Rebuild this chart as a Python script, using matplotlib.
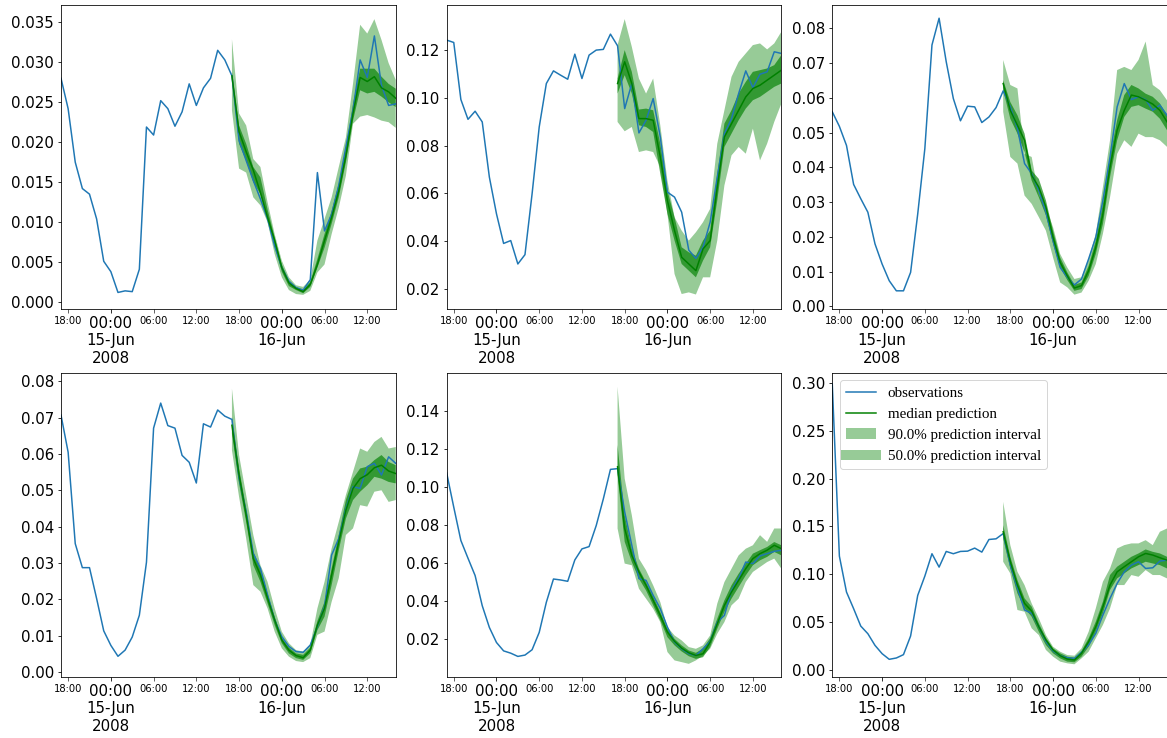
import matplotlib
matplotlib.use("Agg")
import matplotlib.pyplot as plt
import matplotlib.dates as mdates
from matplotlib.lines import Line2D
import numpy as np
import pandas as pd

# hourly series, 48 observations; forecast covers the last 24 hours
start = "2008-06-14 17:00"
n_obs = 48
n_pred = 24

# ---- panel 1 ----
obs_1 = [.0280, .0242, .0175, .0142, .0135, .0104, .0051, .0038, .0012, .0014, .0013, .0041,
         .0219, .0209, .0252, .0242, .0220, .0238, .0273, .0246, .0268, .0280, .0315, .0303,
         .0283, .0202, .0177, .0152, .0129, .0104, .0070, .0043, .0026, .0018, .0015, .0028,
         .0162, .0089, .0110, .0146, .0194, .0240, .0303, .0281, .0333, .0271, .0246, .0248]
med_1 = [.0283, .0213, .0188, .0165, .0137, .0106, .0077, .0043, .0024, .0017, .0013, .0022,
         .0047, .0077, .0106, .0139, .0183, .0236, .0281, .0276, .0282, .0268, .0263, .0255]
hi90_1 = [.0329, .0236, .0221, .0179, .0169, .0125, .0085, .0052, .0031, .0021, .0019, .0028,
          .0077, .0104, .0131, .0169, .0206, .0273, .0347, .0336, .0354, .0328, .0299, .0278]
lo90_1 = [.0240, .0167, .0162, .0131, .0121, .0100, .0060, .0031, .0015, .0010, .0009, .0014,
          .0037, .0047, .0085, .0118, .0158, .0223, .0232, .0234, .0231, .0227, .0225, .0218]
hi50_1 = [.0288, .0221, .0198, .0169, .0156, .0116, .0081, .0047, .0027, .0019, .0015, .0025,
          .0054, .0085, .0114, .0148, .0192, .0248, .0292, .0292, .0292, .0282, .0273, .0267]
lo50_1 = [.0278, .0198, .0177, .0150, .0135, .0106, .0070, .0038, .0020, .0015, .0011, .0019,
          .0043, .0068, .0098, .0131, .0175, .0227, .0265, .0261, .0263, .0257, .0250, .0244]

# ---- panel 2 ----
obs_2 = [.1242, .1232, .0993, .0910, .0944, .0899, .0668, .0514, .0390, .0402, .0304, .0343,
         .0598, .0878, .1060, .1113, .1095, .1078, .1183, .1081, .1179, .1200, .1203, .1267,
         .1218, .0955, .1060, .0853, .0906, .0997, .0836, .0605, .0584, .0521, .0362, .0327,
         .0374, .0479, .0668, .0850, .0913, .1018, .1113, .1043, .1099, .1109, .1193, .1186]
med_2 = [.1060, .1151, .1060, .0913, .0913, .0906, .0752, .0570, .0444, .0332, .0304, .0276,
         .0367, .0402, .0626, .0836, .0892, .0948, .1004, .1039, .1053, .1074, .1095, .1116]
hi90_2 = [.1221, .1330, .1214, .1081, .1018, .1081, .0885, .0654, .0500, .0444, .0402, .0437,
          .0479, .0535, .0808, .0948, .1088, .1151, .1186, .1221, .1228, .1203, .1228, .1277]
lo90_2 = [.0899, .0860, .0878, .0773, .0780, .0773, .0710, .0514, .0262, .0178, .0185, .0176,
          .0248, .0248, .0402, .0633, .0759, .0794, .0766, .0871, .0738, .0808, .0899, .0976]
hi50_2 = [.1081, .1200, .1109, .0951, .0955, .0948, .0808, .0612, .0500, .0374, .0353, .0339,
          .0402, .0444, .0682, .0892, .0948, .1018, .1067, .1109, .1116, .1123, .1137, .1179]
lo50_2 = [.1018, .1095, .1018, .0885, .0878, .0857, .0682, .0514, .0402, .0304, .0276, .0248,
          .0318, .0374, .0570, .0794, .0850, .0906, .0955, .0990, .1004, .1025, .1046, .1060]

# ---- panel 3 ----
obs_3 = [.0560, .0518, .0463, .0351, .0310, .0271, .0180, .0122, .0074, .0045, .0045, .0098,
         .0266, .0454, .0752, .0829, .0704, .0598, .0534, .0576, .0574, .0529, .0545, .0572,
         .0620, .0574, .0512, .0411, .0382, .0334, .0271, .0189, .0112, .0084, .0062, .0079,
         .0137, .0199, .0305, .0430, .0574, .0641, .0595, .0603, .0595, .0564, .0579, .0550]
med_3 = [.0641, .0564, .0521, .0478, .0377, .0343, .0286, .0199, .0127, .0088, .0053, .0060,
         .0103, .0170, .0266, .0401, .0507, .0564, .0608, .0603, .0593, .0582, .0564, .0531]
hi90_3 = [.0709, .0637, .0627, .0439, .0430, .0319, .0286, .0228, .0151, .0112, .0079, .0084,
          .0137, .0209, .0343, .0478, .0680, .0689, .0680, .0709, .0762, .0637, .0622, .0593]
lo90_3 = [.0560, .0430, .0411, .0319, .0295, .0257, .0218, .0141, .0069, .0055, .0034, .0040,
          .0074, .0122, .0209, .0314, .0439, .0478, .0459, .0497, .0487, .0487, .0478, .0459]
hi50_3 = [.0651, .0588, .0550, .0497, .0391, .0367, .0305, .0218, .0141, .0098, .0062, .0069,
          .0117, .0189, .0295, .0430, .0536, .0608, .0637, .0627, .0612, .0603, .0584, .0550]
lo50_3 = [.0622, .0540, .0497, .0444, .0362, .0314, .0262, .0180, .0112, .0076, .0045, .0050,
          .0088, .0151, .0237, .0372, .0478, .0545, .0574, .0579, .0569, .0560, .0540, .0507]

# ---- panel 4 ----
obs_4 = [.0707, .0605, .0353, .0287, .0287, .0202, .0113, .0073, .0043, .0060, .0096, .0156,
         .0302, .0671, .0740, .0678, .0671, .0596, .0577, .0520, .0683, .0674, .0721, .0704,
         .0695, .0533, .0441, .0326, .0285, .0212, .0143, .0097, .0070, .0056, .0054, .0074,
         .0125, .0180, .0322, .0367, .0450, .0510, .0505, .0565, .0574, .0542, .0592, .0574]
med_4 = [.0679, .0542, .0432, .0312, .0267, .0203, .0143, .0088, .0060, .0045, .0039, .0060,
         .0129, .0175, .0267, .0358, .0445, .0505, .0532, .0543, .0562, .0569, .0553, .0546]
hi90_4 = [.0780, .0597, .0487, .0377, .0294, .0248, .0175, .0111, .0079, .0060, .0056, .0074,
          .0175, .0248, .0340, .0413, .0487, .0551, .0615, .0606, .0633, .0647, .0615, .0619]
lo90_4 = [.0610, .0482, .0367, .0239, .0221, .0175, .0111, .0065, .0042, .0030, .0027, .0038,
          .0102, .0111, .0193, .0258, .0377, .0395, .0459, .0455, .0496, .0500, .0468, .0473]
hi50_4 = [.0702, .0560, .0450, .0331, .0285, .0216, .0152, .0094, .0067, .0051, .0047, .0067,
          .0140, .0193, .0285, .0377, .0473, .0532, .0560, .0565, .0583, .0597, .0578, .0569]
lo50_4 = [.0656, .0519, .0413, .0294, .0248, .0189, .0129, .0079, .0051, .0038, .0033, .0051,
          .0115, .0152, .0239, .0335, .0422, .0473, .0496, .0514, .0537, .0532, .0523, .0519]

# ---- panel 5 ----
obs_5 = [.1074, .0894, .0719, .0626, .0535, .0377, .0263, .0184, .0140, .0128, .0111, .0118,
         .0146, .0237, .0395, .0517, .0512, .0505, .0617, .0675, .0687, .0797, .0937, .1092,
         .1096, .0869, .0694, .0519, .0510, .0431, .0361, .0265, .0186, .0151, .0125, .0116,
         .0151, .0190, .0291, .0326, .0457, .0522, .0606, .0598, .0638, .0650, .0662, .0668]
med_5 = [.1106, .0782, .0641, .0554, .0484, .0405, .0326, .0239, .0190, .0154, .0130, .0116,
         .0125, .0186, .0282, .0379, .0449, .0510, .0571, .0624, .0650, .0668, .0694, .0676]
hi90_5 = [.1526, .1044, .0852, .0624, .0563, .0484, .0396, .0265, .0221, .0195, .0160, .0151,
          .0169, .0221, .0388, .0501, .0571, .0641, .0676, .0694, .0747, .0712, .0782, .0782]
lo90_5 = [.0782, .0598, .0589, .0466, .0414, .0361, .0291, .0134, .0090, .0081, .0072, .0090,
          .0116, .0151, .0230, .0291, .0379, .0414, .0501, .0554, .0580, .0606, .0624, .0571]
hi50_5 = [.1220, .0852, .0676, .0571, .0501, .0426, .0344, .0256, .0203, .0169, .0142, .0130,
          .0151, .0207, .0309, .0405, .0484, .0545, .0598, .0650, .0668, .0685, .0711, .0694]
lo50_5 = [.1062, .0712, .0606, .0519, .0457, .0379, .0300, .0212, .0169, .0137, .0112, .0098,
          .0107, .0160, .0256, .0344, .0414, .0475, .0536, .0589, .0615, .0633, .0659, .0641]

# ---- panel 6 ----
obs_6 = [.2990, .1188, .0812, .0638, .0456, .0376, .0254, .0167, .0108, .0122, .0157, .0352,
         .0777, .0979, .1213, .1073, .1237, .1213, .1237, .1240, .1272, .1230, .1362, .1369,
         .1424, .1094, .0850, .0624, .0589, .0449, .0293, .0195, .0146, .0125, .0118, .0181,
         .0258, .0380, .0571, .0746, .0902, .1024, .1094, .1129, .1059, .1066, .1136, .1146]
med_6 = [.1443, .1129, .0885, .0693, .0613, .0449, .0310, .0206, .0146, .0111, .0101, .0171,
         .0293, .0449, .0659, .0885, .1024, .1077, .1129, .1181, .1216, .1199, .1171, .1146]
hi90_6 = [.1756, .1303, .1024, .0885, .0693, .0537, .0362, .0240, .0188, .0153, .0146, .0223,
          .0397, .0641, .0920, .1059, .1268, .1303, .1321, .1321, .1355, .1303, .1443, .1477]
lo90_6 = [.1129, .1007, .0624, .0606, .0432, .0362, .0206, .0136, .0084, .0066, .0056, .0118,
          .0188, .0328, .0467, .0641, .0885, .0885, .0990, .0972, .1042, .0990, .0990, .0955]
hi50_6 = [.1512, .1181, .0937, .0746, .0659, .0484, .0334, .0223, .0171, .0136, .0125, .0195,
          .0328, .0502, .0711, .0990, .1077, .1129, .1181, .1216, .1258, .1233, .1216, .1181]
lo50_6 = [.1373, .1059, .0798, .0641, .0554, .0397, .0258, .0171, .0118, .0084, .0077, .0136,
          .0240, .0397, .0589, .0833, .0955, .1007, .1059, .1094, .1129, .1111, .1094, .1059]

panels = [
    (obs_1, med_1, lo90_1, hi90_1, lo50_1, hi50_1, (-0.00088, 0.03717)),
    (obs_2, med_2, lo90_2, hi90_2, lo50_2, hi50_2, (0.0115, 0.1389)),
    (obs_3, med_3, lo90_3, hi90_3, lo50_3, hi50_3, (-0.00075, 0.0867)),
    (obs_4, med_4, lo90_4, hi90_4, lo50_4, hi50_4, (-0.0014, 0.0823)),
    (obs_5, med_5, lo90_5, hi90_5, lo50_5, hi50_5, (0.0003, 0.1598)),
    (obs_6, med_6, lo90_6, hi90_6, lo50_6, hi50_6, (-0.0077, 0.3105)),
]

legend_labels = ["observations", "median prediction",
                 "90.0% prediction interval", "50.0% prediction interval"]

# alpha used for each interval (percentile ** 0.3)
A90 = (5 / 100.0) ** 0.3
A50 = (25 / 100.0) ** 0.3

t = pd.date_range(start, periods=n_obs, freq="h")
tf = t[n_obs - n_pred:]
tn = mdates.date2num(t.to_pydatetime())
tfn = tn[n_obs - n_pred:]

major = [i for i, s in enumerate(t) if s.hour == 0]
minor = [i for i, s in enumerate(t) if s.hour in (6, 12, 18)]
major_lbl = []
for k, i in enumerate(major):
    s = t[i]
    lbl = s.strftime("%H:%M\n%d-%b")
    if k == 0:
        lbl += s.strftime("\n%Y")
    major_lbl.append(lbl)
minor_lbl = [t[i].strftime("%H:%M") for i in minor]

W, H, DPI = 1167, 738, 72
fig, axes = plt.subplots(2, 3, figsize=(W / DPI, H / DPI), dpi=DPI)
fig.subplots_adjust(left=61 / W, right=1.0, top=1 - 5 / H, bottom=1 - 677 / H,
                    wspace=0.152, hspace=0.21)

for ax, (obs, med, lo90, hi90, lo50, hi50, ylim) in zip(axes.flat, panels):
    l_obs, = ax.plot(tn, obs, color="#1f77b4", lw=1.5)
    l_med, = ax.plot(tfn, med, color="g", lw=1.5)
    f90 = ax.fill_between(tfn, lo90, hi90, facecolor="g", alpha=A90, lw=0)
    # single-point line, only there to give the legend a wide swatch
    l_hack, = ax.plot(tfn[:1], med[:1], color="g", alpha=A90, lw=10)
    ax.fill_between(tfn, lo50, hi50, facecolor="g", alpha=A50, lw=0)

    ax.set_xlim(tn[0], tn[-1])
    ax.set_ylim(*ylim)
    ax.set_xticks([tn[i] for i in major])
    ax.set_xticklabels(major_lbl)
    ax.set_xticks([tn[i] for i in minor], minor=True)
    ax.set_xticklabels(minor_lbl, minor=True)
    ax.tick_params(axis="both", which="major", labelsize=15)
    ax.tick_params(axis="x", which="minor", labelsize=10, length=3.5)

axes[1, 2].legend([l_obs, l_med, f90, l_hack], legend_labels, loc="upper left",
                  prop={"family": ["Liberation Serif", "DejaVu Serif"], "size": 15})

fig.savefig("out.png", dpi=DPI)
